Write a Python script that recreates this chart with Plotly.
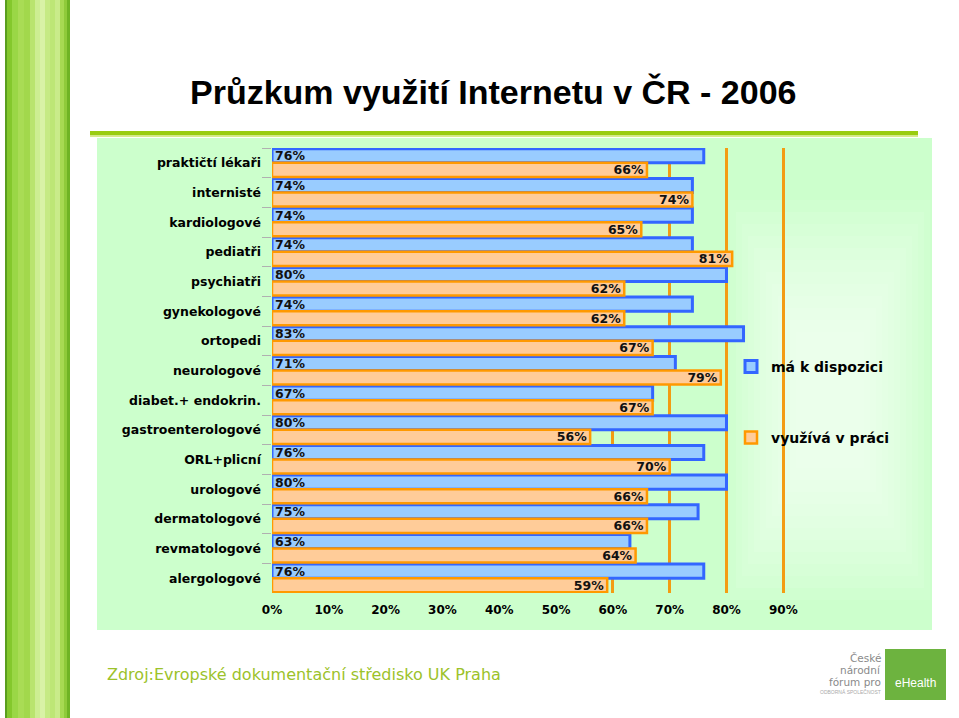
import plotly.graph_objects as go

categories = ["praktičtí lékaři", "internisté", "kardiologové", "pediatři", "psychiatři",
              "gynekologové", "ortopedi", "neurologové", "diabet.+ endokrin.",
              "gastroenterologové", "ORL+plicní", "urologové", "dermatologové",
              "revmatologové", "alergologové"]
ma_k_dispozici = [76, 74, 74, 74, 80, 74, 83, 71, 67, 80, 76, 80, 75, 63, 76]
vyuziva_v_praci = [66, 74, 65, 81, 62, 62, 67, 79, 67, 56, 70, 66, 66, 64, 59]
x_ticks = [0, 10, 20, 30, 40, 50, 60, 70, 80, 90]
x_ticktext = [f"{v}%" for v in x_ticks]

FONT = "Liberation Sans, Arial, sans-serif"
WIDE = "DejaVu Sans, Verdana, sans-serif"
W_PX, H_PX = 959, 718
L, R, T, B = 272, 785, 148, 593


def X(px):
    return (px - L) / (R - L)


def Y(py):
    return (B - py) / (B - T)


fig = go.Figure()
fig.add_trace(go.Bar(
    orientation="h", y=categories, x=ma_k_dispozici, name="má k dispozici",
    marker=dict(color="#99ccff", line=dict(color="#3366ff", width=3)),
    text=[f"{v}%" for v in ma_k_dispozici], textposition="inside",
    insidetextanchor="start", constraintext="none",
    textfont=dict(family=WIDE, size=12.5, color="#111", weight="bold"),
    legend="legend", hoverinfo="skip"))
fig.add_trace(go.Bar(
    orientation="h", y=categories, x=vyuziva_v_praci, name="využívá v práci",
    marker=dict(color="#ffcc99", line=dict(color="#ff9900", width=2.5)),
    text=[f"{v}%" for v in vyuziva_v_praci], textposition="inside",
    insidetextanchor="end", constraintext="none",
    textfont=dict(family=WIDE, size=12.5, color="#111", weight="bold"),
    legend="legend2", hoverinfo="skip"))

shapes = []
# left decorative stripe
stripe = [(5, 7, "#5a9e1e"), (7, 12, "#84c82c"), (12, 18, "#9ad746"), (18, 24, "#a9dc55"),
          (24, 30, "#a2d84c"), (30, 35, "#b9e46e"), (35, 40, "#cdee92"), (40, 45, "#d9f2a6"),
          (45, 50, "#c6ea84"), (50, 55, "#bde676"), (55, 60, "#c9eb8a"), (60, 64, "#a7da52"),
          (64, 67, "#8fcb3a"), (67, 70, "#6fb424")]
for x0, x1, c in stripe:
    shapes.append(dict(type="rect", xref="paper", yref="paper", x0=X(x0), x1=X(x1),
                       y0=Y(0), y1=Y(718), fillcolor=c, line=dict(width=0), layer="below"))
# header line
shapes.append(dict(type="rect", xref="paper", yref="paper", x0=X(90), x1=X(918),
                   y0=Y(131), y1=Y(135.5), fillcolor="#99cc11", line=dict(width=0), layer="below"))
shapes.append(dict(type="rect", xref="paper", yref="paper", x0=X(90), x1=X(918),
                   y0=Y(135.5), y1=Y(137), fillcolor="#d6eb8a", line=dict(width=0), layer="below"))
# panel
shapes.append(dict(type="rect", xref="paper", yref="paper", x0=X(97), x1=X(932),
                   y0=Y(138), y1=Y(630), fillcolor="#ccffcc", line=dict(width=0), layer="below"))
# soft light glow around legend
cx, cy = 830, 400
for k in range(12):
    hw = 100 - k * 6
    hh = 200 - k * 12
    shapes.append(dict(type="rect", xref="paper", yref="paper", x0=X(cx - hw), x1=X(cx + hw),
                       y0=Y(cy - hh), y1=Y(cy + hh), fillcolor="rgba(255,255,255,0.09)",
                       line=dict(width=0), layer="below"))
# logo box
shapes.append(dict(type="rect", xref="paper", yref="paper", x0=X(885), x1=X(946),
                   y0=Y(649), y1=Y(700), fillcolor="#6db33f", line=dict(width=0), layer="below"))

annotations = [
    dict(text="Průzkum využití Internetu v ČR - 2006", x=X(493), y=Y(92), xref="paper", yref="paper",
         showarrow=False, font=dict(family=FONT, size=34, color="#000", weight="bold"),
         xanchor="center", yanchor="middle"),
    dict(text="Zdroj:Evropské dokumentační středisko UK Praha", x=X(105), y=Y(674), xref="paper",
         yref="paper", showarrow=False, font=dict(family=WIDE, size=16, color="#9cc22a"),
         xanchor="left", yanchor="middle"),
    dict(text="eHealth", x=X(915), y=Y(683), xref="paper", yref="paper", showarrow=False,
         font=dict(family=FONT, size=12, color="#ffffff"), xanchor="center", yanchor="middle"),
]
for txt, py in [("České", 658), ("národní", 670), ("fórum pro", 682)]:
    annotations.append(dict(text=txt, x=X(883), y=Y(py), xref="paper", yref="paper", showarrow=False,
                            font=dict(family=WIDE, size=10.5, color="#8a8a8a"),
                            xanchor="right", yanchor="middle"))
annotations.append(dict(text="ODBORNÁ SPOLEČNOST", x=X(883), y=Y(692), xref="paper", yref="paper",
                        showarrow=False, font=dict(family=FONT, size=5, color="#aaaaaa"),
                        xanchor="right", yanchor="middle"))

legend_common = dict(font=dict(family=WIDE, size=14, color="#000", weight="bold"),
                     bgcolor="rgba(0,0,0,0)", borderwidth=0, xanchor="left", yanchor="middle",
                     itemwidth=30)

fig.update_layout(
    width=W_PX, height=H_PX,
    margin=dict(l=L, r=W_PX - R, t=T, b=H_PX - B, pad=0),
    paper_bgcolor="#ffffff", plot_bgcolor="rgba(0,0,0,0)",
    barmode="group", bargap=0.05, bargroupgap=0,
    font=dict(family=FONT, color="#000"),
    shapes=shapes, annotations=annotations,
    legend=dict(x=X(731), y=Y(367), **legend_common),
    legend2=dict(x=X(731), y=Y(438), **legend_common),
    xaxis=dict(range=[0, 90.3], tickvals=x_ticks, ticktext=x_ticktext,
               showgrid=True, gridcolor="#f39c12", gridwidth=3, zeroline=False,
               showline=False, ticks="", ticklabelstandoff=8,
               tickfont=dict(family=WIDE, size=12, color="#000", weight="bold")),
    yaxis=dict(categoryorder="array", categoryarray=categories, autorange="reversed",
               showgrid=False, zeroline=False, showline=False,
               ticks="outside", ticklen=9, tickcolor="#b0b0b0", tickwidth=1,
               tickson="boundaries", ticklabelstandoff=10,
               tickfont=dict(family=WIDE, size=12.5, color="#000", weight="bold")),
    showlegend=True,
)

fig.write_html("out.html")
